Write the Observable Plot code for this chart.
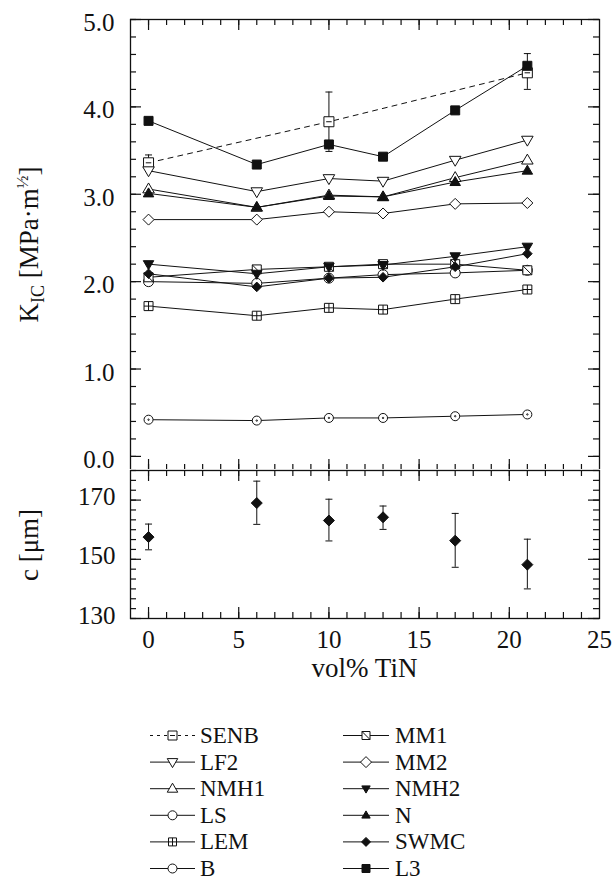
<!DOCTYPE html>
<html><head><meta charset="utf-8">
<script src="https://cdn.jsdelivr.net/npm/d3@7"></script>
<script src="https://cdn.jsdelivr.net/npm/@observablehq/plot@0.6"></script>
<style>
html,body{margin:0;padding:0;background:#fff;}
#wrap{position:relative;width:613px;height:877px;overflow:hidden;background:#fff;font-family:"Liberation Serif","Times New Roman",Times,serif;}
#wrap > svg{position:absolute;left:0;}
#wrap text{font-family:"Liberation Serif","Times New Roman",Times,serif;}
</style></head><body><div id="wrap"></div>
<script>
// ---------------- data ----------------
const volTiN = [0, 6, 10, 13, 17, 21];
const senbX  = [0, 10, 21];
const SENB   = [3.36, 3.83, 4.39];
const senbLo = [3.28, 3.49, 4.20];
const senbHi = [3.45, 4.17, 4.61];
const LF2  = [3.27, 3.03, 3.18, 3.15, 3.39, 3.62];
const NMH1 = [3.06, 2.85, 2.99, 2.97, 3.19, 3.39];
const N    = [3.01, 2.85, 2.98, 2.97, 3.14, 3.27];
const MM2  = [2.71, 2.71, 2.80, 2.78, 2.89, 2.90];
const NMH2 = [2.20, 2.09, 2.17, 2.19, 2.29, 2.40];
const MM1  = [2.05, 2.14, 2.17, 2.20, 2.20, 2.13];
const SWMC = [2.09, 1.94, 2.04, 2.05, 2.17, 2.32];
const B    = [2.00, 1.98, 2.04, 2.08, 2.10, 2.13];
const LEM  = [1.72, 1.61, 1.70, 1.68, 1.80, 1.91];
const LS   = [0.42, 0.41, 0.44, 0.44, 0.46, 0.48];
const L3   = [3.84, 3.34, 3.57, 3.43, 3.96, 4.47];
const cVal = [157.5, 169.0, 163.1, 164.2, 156.3, 148.2];
const cLo  = [153.2, 161.8, 156.2, 160.1, 147.3, 140.0];
const cHi  = [161.9, 176.4, 170.3, 168.0, 165.5, 156.8];
const kTicks = [0, 1, 2, 3, 4, 5];
const cTicks = [130, 150, 170];
const xTicks = [0, 5, 10, 15, 20, 25];
const legendLeft  = ["SENB", "LF2", "NMH1", "LS", "LEM", "B"];
const legendRight = ["MM1", "MM2", "NMH2", "N", "SWMC", "L3"];

// ---------------- symbols ----------------
function sym(f){ return {draw(ctx, size){ f(ctx, Math.sqrt(size / Math.PI)); }}; }
function sqPath(c,h){ c.moveTo(-h,-h); c.lineTo(h,-h); c.lineTo(h,h); c.lineTo(-h,h); c.closePath(); }
const SYM = {
  square: sym(sqPath),
  squareMinus: sym((c,h)=>{ sqPath(c,h); c.moveTo(-h*0.55,0); c.lineTo(h*0.55,0); }),
  squarePlus: sym((c,h)=>{ sqPath(c,h); c.moveTo(-h,0); c.lineTo(h,0); c.moveTo(0,-h); c.lineTo(0,h); }),
  squareSlash: sym((c,h)=>{ sqPath(c,h); c.moveTo(-h,-h); c.lineTo(h,h); }),
  triUp: sym((c,h)=>{ c.moveTo(0,-h*1.1); c.lineTo(h*1.05,h*0.7); c.lineTo(-h*1.05,h*0.7); c.closePath(); }),
  triDown: sym((c,h)=>{ c.moveTo(0,h*1.1); c.lineTo(h*1.05,-h*0.7); c.lineTo(-h*1.05,-h*0.7); c.closePath(); }),
  diamond: sym((c,h)=>{ c.moveTo(0,-h); c.lineTo(h,0); c.lineTo(0,h); c.lineTo(-h,0); c.closePath(); }),
  circle: sym((c,h)=>{ c.moveTo(h,0); c.arc(0,0,h,0,2*Math.PI); }),
  circleDot: sym((c,h)=>{ c.moveTo(h,0); c.arc(0,0,h,0,2*Math.PI); c.moveTo(0.7,0); c.arc(0,0,0.7,0,2*Math.PI); }),
  cap: sym((c,h)=>{ c.moveTo(-h,0); c.lineTo(h,0); })
};

const INK = "#111";
const series = [
  {name:"SENB", x: senbX, y: SENB, sym:"squareMinus", lsym:"squareMinus", fill:"white", r:5, lr:4.5, dash:true},
  {name:"LS",   y: LS,   sym:"circleDot",  lsym:"circle",     fill:"white", r:4.5, lr:4.5},
  {name:"LEM",  y: LEM,  sym:"squarePlus", lsym:"squarePlus", fill:"white", r:4.5, lr:4},
  {name:"B",    y: B,    sym:"circle",     lsym:"circle",     fill:"white", r:5,   lr:4.5},
  {name:"MM1",  y: MM1,  sym:"squareSlash",lsym:"squareSlash",fill:"white", r:4.5, lr:4},
  {name:"SWMC", y: SWMC, sym:"diamond",    lsym:"diamond",    fill:INK,     r:4.8, lr:4.5},
  {name:"NMH2", y: NMH2, sym:"triDown",    lsym:"triDown",    fill:INK,     r:5,   lr:4},
  {name:"MM2",  y: MM2,  sym:"diamond",    lsym:"diamond",    fill:"white", r:5.5, lr:5.5},
  {name:"NMH1", y: NMH1, sym:"triUp",      lsym:"triUp",      fill:"white", r:5.5, lr:5},
  {name:"N",    y: N,    sym:"triUp",      lsym:"triUp",      fill:INK,     r:5,   lr:4},
  {name:"LF2",  y: LF2,  sym:"triDown",    lsym:"triDown",    fill:"white", r:5.5, lr:5},
  {name:"L3",   y: L3,   sym:"square",     lsym:"square",     fill:INK,     r:4.5, lr:4}
];
const rows = series.flatMap(s => (s.x || volTiN).map((x,i) => ({series: s.name, x, k: s.y[i]})));
const senbRows = senbX.map((x,i) => ({x, k: SENB[i], lo: senbLo[i], hi: senbHi[i]}));
const cRows = volTiN.map((x,i) => ({x, c: cVal[i], lo: cLo[i], hi: cHi[i]}));

// ---------------- layout ----------------
const W = 613, ML = 130, MR = 14;
const innerW = W - ML - MR;
const topH = 470, topMT = 19, topInner = topH - topMT;
const pxPerK = 87.38;
const kMin = 5 - topInner / pxPerK;
const botTop = 469, botH = 230, botMT = 1, botMB = 81, botInner = botH - botMT - botMB;
const FONT = "Liberation Serif, Times New Roman, Times, serif";

function frameTicks(innerH, xMajor, xMinor, yMajor, yMinor){
  const M = 11, m = 6, o = {stroke: INK, strokeWidth: 1.2};
  return [
    Plot.tickX(xMinor, {x: d=>d, insetBottom: innerH - m, ...o}),
    Plot.tickX(xMinor, {x: d=>d, insetTop: innerH - m, ...o}),
    Plot.tickX(xMajor, {x: d=>d, insetBottom: innerH - M, ...o}),
    Plot.tickX(xMajor, {x: d=>d, insetTop: innerH - M, ...o}),
    Plot.tickY(yMinor, {y: d=>d, insetRight: innerW - m, ...o}),
    Plot.tickY(yMinor, {y: d=>d, insetLeft: innerW - m, ...o}),
    Plot.tickY(yMajor, {y: d=>d, insetRight: innerW - M, ...o}),
    Plot.tickY(yMajor, {y: d=>d, insetLeft: innerW - M, ...o})
  ];
}
const xMinor = d3.range(0, 25, 1);
const xMajor = xTicks.slice(0, 5);
const kMinor = d3.range(0, 26).map(i => i * 0.2);
const cMinor = d3.range(0, 16).map(i => 130 + i * 20 / 6);

const styleObj = {fontFamily: FONT, fontSize: "25px", color: INK, background: "white", overflow: "visible"};

// ---------------- top panel ----------------
const topMarks = [
  Plot.frame({stroke: INK, strokeWidth: 1.3}),
  ...frameTicks(topInner, xMajor, xMinor, kTicks, kMinor),
  Plot.axisY({ticks: kTicks, tickSize: 0, tickPadding: 16, tickFormat: d3.format(".1f"), fontSize: 25, dy: 3.5, label: null}),
  Plot.line(rows.filter(d => d.series === "SENB"), {x: "x", y: "k", stroke: INK, strokeWidth: 1, strokeDasharray: "5,5"}),
  Plot.line(rows.filter(d => d.series !== "SENB"), {x: "x", y: "k", z: "series", stroke: INK, strokeWidth: 1}),
  Plot.ruleX(senbRows, {x: "x", y1: "lo", y2: "hi", stroke: INK, strokeWidth: 1}),
  Plot.dot(senbRows, {x: "x", y: "lo", symbol: SYM.cap, r: 3.5, stroke: INK, strokeWidth: 1}),
  Plot.dot(senbRows, {x: "x", y: "hi", symbol: SYM.cap, r: 3.5, stroke: INK, strokeWidth: 1}),
  ...series.map(s => Plot.dot(rows.filter(d => d.series === s.name),
      {x: "x", y: "k", symbol: SYM[s.sym], r: s.r, fill: s.fill, stroke: INK, strokeWidth: 1}))
];
const topSvg = Plot.plot({
  width: W, height: topH, marginLeft: ML, marginRight: MR, marginTop: topMT, marginBottom: 0,
  x: {domain: [-1, 25], axis: null},
  y: {domain: [kMin, 5]},
  style: styleObj,
  marks: topMarks
});
topSvg.style.top = "0px";

// ---------------- bottom panel ----------------
const botSvg = Plot.plot({
  width: W, height: botH, marginLeft: ML, marginRight: MR, marginTop: botMT, marginBottom: botMB,
  x: {domain: [-1, 25]},
  y: {domain: [130, 180]},
  style: styleObj,
  marks: [
    Plot.frame({stroke: INK, strokeWidth: 1.3}),
    ...frameTicks(botInner, xMajor, xMinor, cTicks, cMinor),
    Plot.axisY({ticks: cTicks, tickSize: 0, tickPadding: 15, fontSize: 25, dy: -3, label: null}),
    Plot.axisX({ticks: xTicks, tickSize: 0, tickPadding: 12, fontSize: 25, label: null}),
    Plot.ruleX(cRows, {x: "x", y1: "lo", y2: "hi", stroke: INK, strokeWidth: 1}),
    Plot.dot(cRows, {x: "x", y: "lo", symbol: SYM.cap, r: 3.5, stroke: INK, strokeWidth: 1}),
    Plot.dot(cRows, {x: "x", y: "hi", symbol: SYM.cap, r: 3.5, stroke: INK, strokeWidth: 1}),
    Plot.dot(cRows, {x: "x", y: "c", symbol: SYM.diamond, r: 5.5, fill: INK, stroke: INK, strokeWidth: 1})
  ]
});
botSvg.style.top = botTop + "px";

// ---------------- titles ----------------
const tk = d3.select(topSvg).append("text")
  .attr("transform", `translate(38,${topMT + topInner/2}) rotate(-90)`)
  .attr("text-anchor", "middle").attr("fill", INK)
  .style("font-family", FONT).style("font-size", "27px");
tk.append("tspan").text("K");
tk.append("tspan").attr("dy", 6).style("font-size", "18px").text("IC");
tk.append("tspan").attr("dy", -6).text(" [MPa·m");
tk.append("tspan").attr("dy", -10).style("font-size", "17px").text("½");
tk.append("tspan").attr("dy", 10).text("]");

d3.select(botSvg).append("text")
  .attr("transform", `translate(38,${botMT + botInner/2 + 1}) rotate(-90)`)
  .attr("text-anchor", "middle").attr("fill", INK)
  .style("font-family", FONT).style("font-size", "27px")
  .text("c [μm]");
d3.select(botSvg).append("text")
  .attr("x", ML + innerW/2).attr("y", 677 - botTop)
  .attr("text-anchor", "middle").attr("fill", INK)
  .style("font-family", FONT).style("font-size", "27px")
  .text("vol% TiN");

// ---------------- legend ----------------
const leg = d3.create("svg").attr("width", W).attr("height", 877)
  .style("top", "0px").style("pointer-events", "none");
const byName = Object.fromEntries(series.map(s => [s.name, s]));
function legendCol(names, x0, x1, xt){
  names.forEach((n, i) => {
    const s = byName[n];
    const y = 735.5 + i * 26.6;
    leg.append("line").attr("x1", x0).attr("x2", x1).attr("y1", y).attr("y2", y)
      .attr("stroke", INK).attr("stroke-width", 1)
      .attr("stroke-dasharray", s.dash ? "3,4" : null);
    const p = d3.path(); SYM[s.lsym].draw(p, s.lr * s.lr * Math.PI);
    leg.append("path").attr("d", p.toString())
      .attr("transform", `translate(${(x0 + x1)/2},${y})`)
      .attr("fill", s.fill).attr("stroke", INK).attr("stroke-width", 1);
    leg.append("text").attr("x", xt).attr("y", y + 7.5).attr("fill", INK)
      .style("font-family", FONT).style("font-size", "23px").text(n);
  });
}
legendCol(legendLeft, 150, 195, 200);
legendCol(legendRight, 343, 389, 395);

const wrap = document.getElementById("wrap");
wrap.appendChild(topSvg);
wrap.appendChild(botSvg);
wrap.appendChild(leg.node());
</script></body></html>
